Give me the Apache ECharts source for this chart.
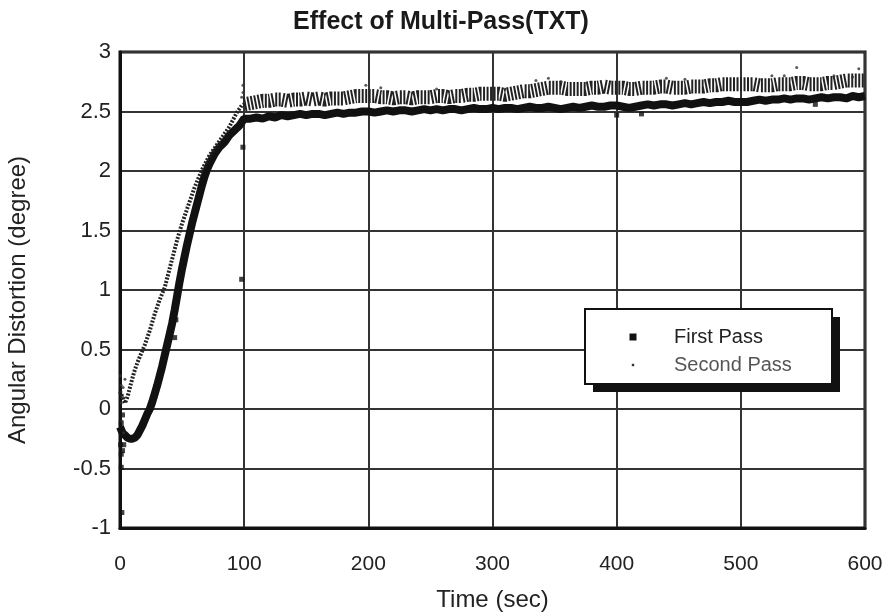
<!DOCTYPE html>
<html>
<head>
<meta charset="utf-8">
<script src="https://cdn.jsdelivr.net/npm/echarts@6/dist/echarts.min.js"></script>
<style>
html,body{margin:0;padding:0;background:#fff;}
#chart{width:882px;height:612px;}
</style>
</head>
<body>
<div id="chart"></div>
<script>
// ---- data (time in sec, angular distortion in degree) ----
const firstPassRise = [[0,-0.15],[2,-0.2],[4,-0.22],[6,-0.24],[8,-0.25],[10,-0.25],[12,-0.24],[14,-0.22],[16,-0.18],[18,-0.14],[20,-0.09],[22,-0.04],[24,0.0],[26,0.06],[28,0.13],[30,0.2],[32,0.28],[34,0.36],[36,0.45],[38,0.54],[40,0.63],[42,0.72],[44,0.83],[46,0.95],[48,1.07],[50,1.18],[52,1.28],[54,1.38],[56,1.47],[58,1.56],[60,1.64],[62,1.72],[64,1.8],[66,1.88],[68,1.95],[70,2.01],[72,2.06],[74,2.1],[76,2.14],[78,2.17],[80,2.2],[82,2.22],[84,2.24],[86,2.27],[88,2.3],[90,2.32],[92,2.34],[94,2.36],[96,2.38],[98,2.41],[100,2.44]];
const firstPassFlat = [[105,2.44],[110,2.45],[115,2.44],[120,2.46],[125,2.45],[130,2.47],[135,2.46],[140,2.47],[145,2.48],[150,2.47],[155,2.48],[160,2.48],[165,2.47],[170,2.48],[175,2.49],[180,2.48],[185,2.49],[190,2.49],[195,2.5],[200,2.5],[205,2.49],[210,2.5],[215,2.51],[220,2.5],[225,2.51],[230,2.51],[235,2.5],[240,2.51],[245,2.52],[250,2.51],[255,2.52],[260,2.51],[265,2.52],[270,2.52],[275,2.51],[280,2.52],[285,2.53],[290,2.52],[295,2.52],[300,2.53],[305,2.52],[310,2.53],[315,2.53],[320,2.52],[325,2.53],[330,2.54],[335,2.53],[340,2.53],[345,2.54],[350,2.53],[355,2.52],[360,2.53],[365,2.54],[370,2.53],[375,2.54],[380,2.55],[385,2.54],[390,2.54],[395,2.55],[400,2.55],[405,2.54],[410,2.53],[415,2.54],[420,2.55],[425,2.56],[430,2.55],[435,2.56],[440,2.56],[445,2.55],[450,2.56],[455,2.57],[460,2.56],[465,2.57],[470,2.58],[475,2.57],[480,2.58],[485,2.58],[490,2.59],[495,2.58],[500,2.58],[505,2.58],[510,2.59],[515,2.6],[520,2.59],[525,2.6],[530,2.6],[535,2.61],[540,2.6],[545,2.61],[550,2.61],[555,2.6],[560,2.61],[565,2.62],[570,2.61],[575,2.62],[580,2.62],[585,2.61],[590,2.63],[595,2.62],[600,2.63]];
const firstPassStray = [[0.5,-0.3],[1,-0.38],[1,-0.49],[1.5,-0.87],[2,-0.05],[3,-0.3],[1,-0.12],[2,-0.35],[44,0.6],[45,0.75],[98,1.09],[99,2.2],[400,2.47],[420,2.48],[560,2.56]];

const secondPassRise = [[0,0.15],[2,0.1],[4,0.05],[6,0.1],[8,0.18],[10,0.26],[12,0.33],[14,0.39],[16,0.44],[18,0.49],[20,0.54],[22,0.6],[24,0.66],[26,0.73],[28,0.8],[30,0.86],[32,0.92],[34,0.97],[36,1.02],[38,1.1],[40,1.18],[42,1.26],[44,1.34],[46,1.42],[48,1.49],[50,1.56],[52,1.62],[54,1.68],[56,1.74],[58,1.8],[60,1.86],[62,1.91],[64,1.96],[66,2.01],[68,2.05],[70,2.09],[72,2.13],[74,2.16],[76,2.19],[78,2.22],[80,2.25],[82,2.28],[84,2.31],[86,2.34],[88,2.37],[90,2.41],[92,2.45],[94,2.49],[96,2.52],[98,2.55],[100,2.56]];
const secondPassFlat = [[100,2.56],[105,2.57],[110,2.58],[115,2.59],[120,2.59],[125,2.6],[130,2.6],[135,2.59],[140,2.6],[145,2.6],[150,2.61],[155,2.6],[160,2.61],[165,2.6],[170,2.61],[175,2.61],[180,2.61],[185,2.62],[190,2.63],[195,2.63],[200,2.63],[205,2.63],[210,2.62],[215,2.62],[220,2.61],[225,2.62],[230,2.62],[235,2.61],[240,2.62],[245,2.62],[250,2.62],[255,2.63],[260,2.63],[265,2.62],[270,2.63],[275,2.63],[280,2.64],[285,2.64],[290,2.65],[295,2.65],[300,2.65],[305,2.65],[310,2.64],[315,2.65],[320,2.66],[325,2.67],[330,2.67],[335,2.68],[340,2.69],[345,2.7],[350,2.7],[355,2.7],[360,2.69],[365,2.69],[370,2.69],[375,2.69],[380,2.7],[385,2.7],[390,2.71],[395,2.7],[400,2.7],[405,2.7],[410,2.69],[415,2.69],[420,2.7],[425,2.7],[430,2.7],[435,2.71],[440,2.71],[445,2.7],[450,2.7],[455,2.7],[460,2.71],[465,2.71],[470,2.71],[475,2.72],[480,2.72],[485,2.73],[490,2.73],[495,2.73],[500,2.73],[505,2.73],[510,2.73],[515,2.72],[520,2.72],[525,2.72],[530,2.73],[535,2.73],[540,2.73],[545,2.74],[550,2.74],[555,2.73],[560,2.73],[565,2.73],[570,2.74],[575,2.74],[580,2.75],[585,2.76],[590,2.76],[595,2.76],[600,2.76]];
const secondPassStray = [[0.5,0.28],[1,0.2],[1.5,-0.1],[2,0.1],[3,-0.2],[4,0.25],[1,0.05],[2.5,0.18],[98,2.62],[99,2.72],[99,2.66],[198,2.72],[210,2.7],[255,2.69],[335,2.76],[345,2.78],[355,2.75],[440,2.78],[455,2.77],[525,2.8],[535,2.8],[545,2.87],[575,2.8],[590,2.79],[595,2.86]];

const xMin = 0, xMax = 600, xStep = 100;
const yMin = -1, yMax = 3, yStep = 0.5;

const chart = echarts.init(document.getElementById('chart'), null, {renderer: 'canvas'});
const font = 'Liberation Sans, Arial, sans-serif';
chart.setOption({
  animation: false,
  backgroundColor: '#fff',
  title: {
    text: 'Effect of Multi-Pass(TXT)',
    left: 'center', top: 5,
    textStyle: {fontFamily: font, fontSize: 25, fontWeight: 'bold', color: '#1a1a1a'}
  },
  grid: {left: 120, right: 17, top: 52, bottom: 84, outerBoundsMode: 'none', containLabel: false, show: true, borderColor: '#111', borderWidth: 3, backgroundColor: 'transparent'},
  xAxis: {
    type: 'value', min: xMin, max: xMax, interval: xStep,
    name: 'Time (sec)', nameLocation: 'middle', nameGap: 60,
    nameTextStyle: {fontFamily: font, fontSize: 24, color: '#222'},
    axisLine: {show: true, onZero: false, lineStyle: {color: '#111', width: 3}},
    axisTick: {show: false},
    axisLabel: {fontFamily: font, fontSize: 21, color: '#222', margin: 26},
    splitLine: {show: true, lineStyle: {color: '#333', width: 2}}
  },
  yAxis: {
    type: 'value', min: yMin, max: yMax, interval: yStep,
    name: 'Angular Distortion (degree)', nameLocation: 'middle', nameGap: 90,
    nameTextStyle: {fontFamily: font, fontSize: 24, color: '#222', padding: [0, 0, 0, -20]},
    axisLine: {show: true, onZero: false, lineStyle: {color: '#111', width: 3}},
    axisTick: {show: false},
    axisLabel: {fontFamily: font, fontSize: 22, color: '#222', margin: 9},
    splitLine: {show: true, lineStyle: {color: '#333', width: 2}}
  },
  graphic: [
    {type: 'rect', z: 100, shape: {x: 593, y: 317, width: 247, height: 75}, style: {fill: '#111'}},
    {type: 'rect', z: 101, shape: {x: 585, y: 309, width: 247, height: 75}, style: {fill: '#fff', stroke: '#111', lineWidth: 2}}
  ],
  legend: {
    orient: 'vertical',
    left: 625, top: 327,
    padding: 0,
    z: 110,
    itemWidth: 72, itemHeight: 16, itemGap: 8,
    textStyle: {fontFamily: font, fontSize: 20, color: '#222'},
    data: [
      {name: 'First Pass', icon: 'path://M0,0M16,16M4.5,4.5h7v7h-7z'},
      {name: 'Second Pass', icon: 'path://M0,0M16,16M6.8,6.8h2.4v2.4h-2.4z', textStyle: {color: '#555'}}
    ]
  },
  series: [
    {name: 'First Pass', type: 'line', data: firstPassRise.concat(firstPassFlat), symbol: 'none', lineStyle: {color: '#111', width: 8}, itemStyle: {color: '#111'}, z: 3},
    {name: 'First Pass', type: 'scatter', data: firstPassStray, symbol: 'rect', symbolSize: 5, itemStyle: {color: '#111'}, z: 3},
    {name: 'Second Pass', type: 'line', data: secondPassRise, symbol: 'none', lineStyle: {color: '#222', width: 4, type: [2, 1.5]}, itemStyle: {color: '#333'}, z: 4},
    {name: 'Second Pass', type: 'line', data: secondPassFlat, symbol: 'none', lineStyle: {color: '#222', width: 14, type: [2, 1.5]}, itemStyle: {color: '#333'}, z: 2},
    {name: 'Second Pass', type: 'scatter', data: secondPassStray, symbol: 'circle', symbolSize: 3, itemStyle: {color: '#333'}, z: 4}
  ]
});
</script>
</body>
</html>
